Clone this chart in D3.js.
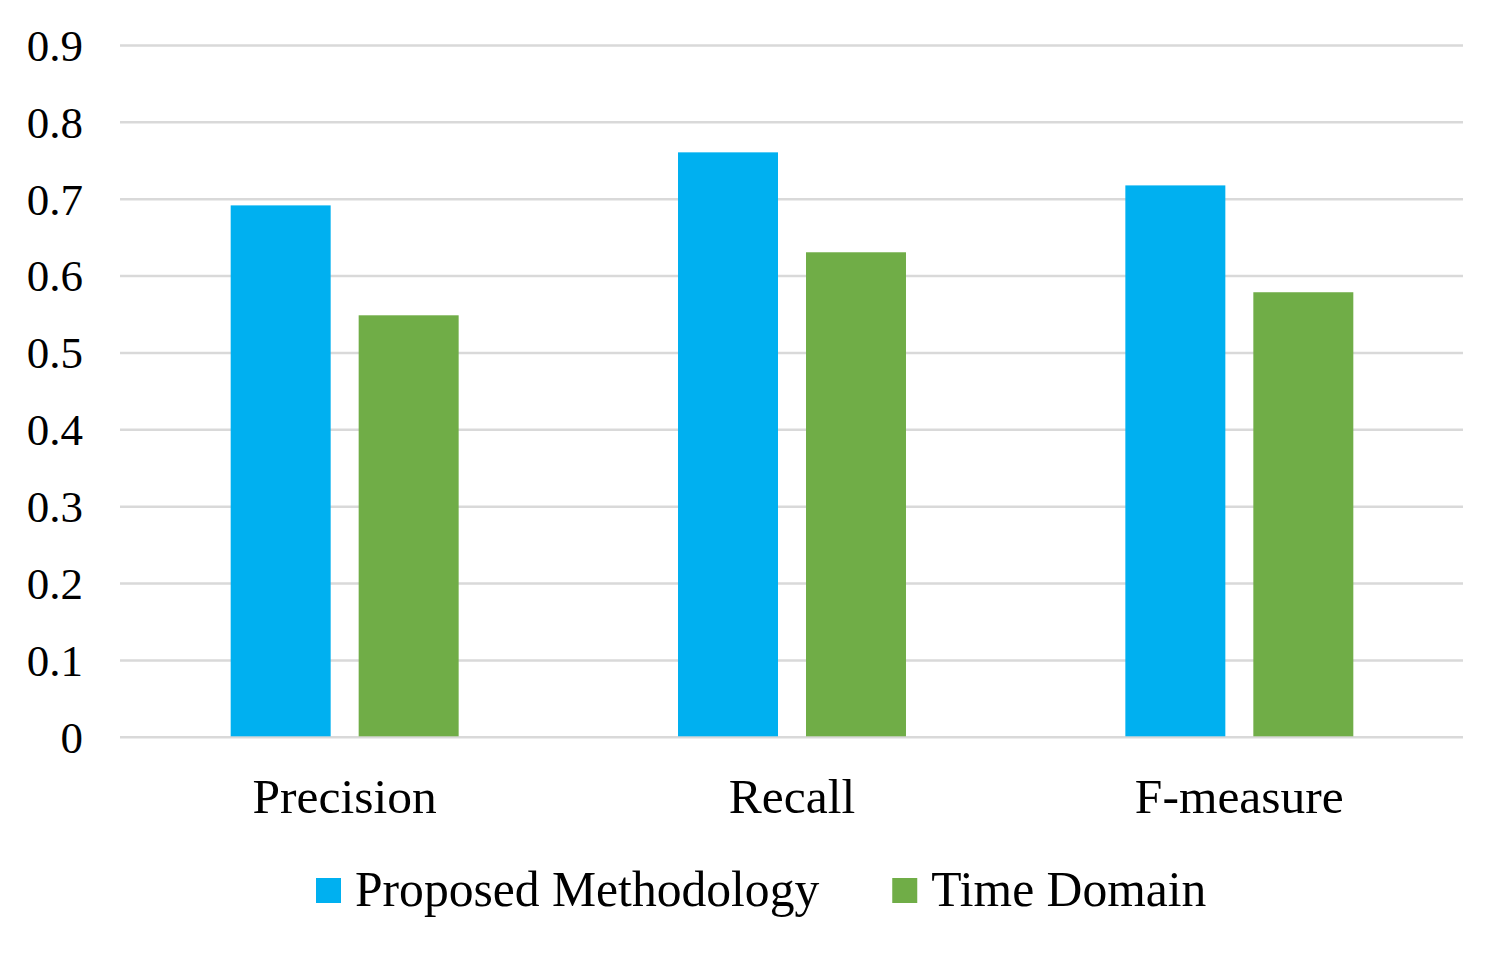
<!DOCTYPE html>
<html>
<head>
<meta charset="utf-8">
<script src="https://cdn.jsdelivr.net/npm/d3@7"></script>
<style>
  body { margin: 0; background: #fff; }
  text { font-family: "Liberation Serif", "Times New Roman", serif; fill: #000; }
</style>
</head>
<body>
<script>
// data
var categories = ["Precision", "Recall", "F-measure"];
var seriesNames = ["Proposed Methodology", "Time Domain"];
var proposed = [0.692, 0.761, 0.718];
var timeDomain = [0.549, 0.631, 0.579];
var yTicks = [0, 0.1, 0.2, 0.3, 0.4, 0.5, 0.6, 0.7, 0.8, 0.9];
var colors = ["#00b0f0", "#70ad47"];

var W = 1508, H = 953;
var plotLeft = 121, plotRight = 1463, plotTop = 45.5, plotBottom = 737.3;

var svg = d3.select("body").append("svg").attr("width", W).attr("height", H);

var y = d3.scaleLinear().domain([0, 0.9]).range([plotBottom, plotTop]);

var x0 = d3.scaleBand().domain(categories).range([plotLeft, plotRight]).padding(0);
var x1 = d3.scaleBand().domain(seriesNames).range([0, x0.bandwidth()])
  .paddingInner(0.21875).paddingOuter(0.857);

// gridlines
svg.append("g").selectAll("line").data(yTicks).enter().append("line")
  .attr("x1", plotLeft - 1).attr("x2", plotRight)
  .attr("y1", function(d){ return y(d); })
  .attr("y2", function(d){ return y(d); })
  .attr("stroke", "#d9d9d9").attr("stroke-width", 2.5);

// y labels
var yAxis = svg.append("g").attr("transform", "translate(83,0)")
  .call(d3.axisLeft(y).tickValues(yTicks).tickSize(0).tickPadding(0)
    .tickFormat(function(d){ return d === 0 ? "0" : d3.format(".1f")(d); }));
yAxis.select(".domain").remove();
yAxis.selectAll("text").attr("font-size", 45).attr("font-family", "Liberation Serif")
  .attr("fill", "#000").attr("dy", "0.33em");

// bars
var rows = categories.map(function(c, i){ return {cat: c, vals: [proposed[i], timeDomain[i]]}; });
var groups = svg.selectAll(".grp").data(rows).enter().append("g")
  .attr("transform", function(d){ return "translate(" + x0(d.cat) + ",0)"; });
groups.selectAll("rect").data(function(d){
    return d.vals.map(function(v, j){ return {name: seriesNames[j], v: v, j: j}; });
  }).enter().append("rect")
  .attr("x", function(d){ return x1(d.name); })
  .attr("width", x1.bandwidth())
  .attr("y", function(d){ return y(d.v); })
  .attr("height", function(d){ return plotBottom - 1 - y(d.v); })
  .attr("fill", function(d){ return colors[d.j]; });

// x labels
var xAxis = svg.append("g").attr("transform", "translate(0,813)")
  .call(d3.axisBottom(x0).tickSize(0).tickPadding(0));
xAxis.select(".domain").remove();
xAxis.selectAll("text").attr("font-size", 49.5).attr("font-family", "Liberation Serif")
  .attr("fill", "#000").attr("dy", 0).attr("y", 0);

// legend
var legend = svg.append("g");
var lx = 316;
seriesNames.forEach(function(name, i){
  legend.append("rect").attr("x", lx).attr("y", 878).attr("width", 25).attr("height", 25)
    .attr("fill", colors[i]);
  var t = legend.append("text").attr("x", lx + 39).attr("y", 906)
    .attr("font-size", 49.6).text(name);
  lx += 39 + t.node().getComputedTextLength() + 73;
});
</script>
</body>
</html>
